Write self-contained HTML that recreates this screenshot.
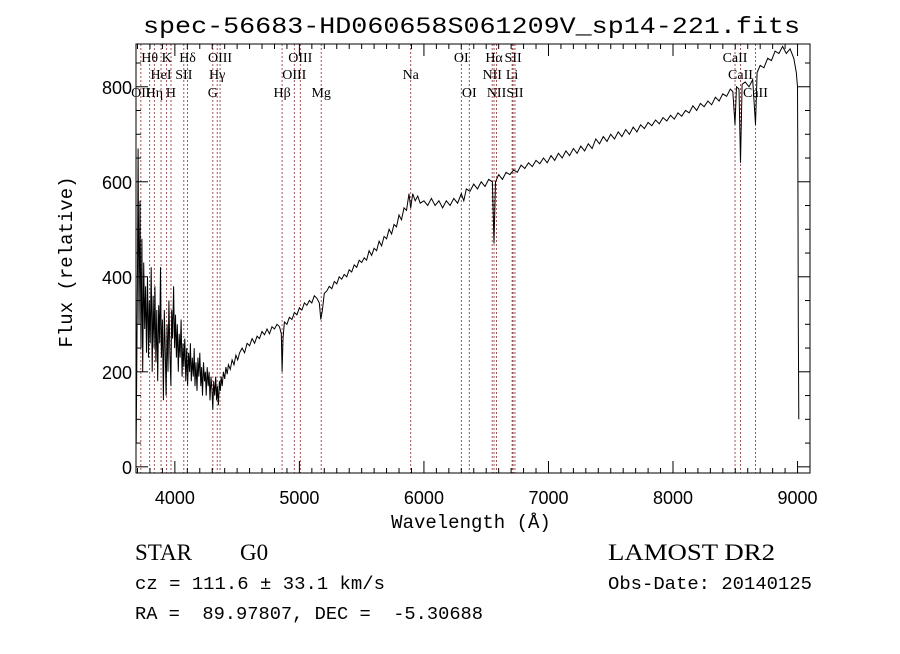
<!DOCTYPE html>
<html><head><meta charset="utf-8"><style>
body{margin:0;background:#fff;}
svg text{fill:#000;}
</style></head><body>
<svg id="chart" width="900" height="649" xmlns="http://www.w3.org/2000/svg" font-family="'Liberation Mono', monospace">
<rect width="900" height="649" fill="#fff"/>
<text x="143" y="33" font-size="23" textLength="657" lengthAdjust="spacingAndGlyphs" font-family="'Liberation Mono', monospace">spec-56683-HD060658S061209V_sp14-221.fits</text>
<g id="lines"></g>
<g id="linelabels" font-family="'Liberation Serif', serif" font-size="14"></g>
<path id="spec" fill="none" stroke="#000" stroke-width="1"/>
<g id="axes"></g>
<text x="471" y="528" font-size="19" text-anchor="middle">Wavelength (Å)</text>
<text transform="translate(72,262) rotate(-90)" font-size="19" text-anchor="middle">Flux (relative)</text>
<text x="135" y="560" font-size="23" font-family="'Liberation Serif', serif">STAR</text>
<text x="240" y="560" font-size="23" font-family="'Liberation Serif', serif">G0</text>
<text x="135" y="589" font-size="18" textLength="250" lengthAdjust="spacingAndGlyphs">cz = 111.6 ± 33.1 km/s</text>
<text x="135" y="619" font-size="18" textLength="348" lengthAdjust="spacingAndGlyphs" xml:space="preserve">RA =  89.97807, DEC =  -5.30688</text>
<text x="608" y="560" font-size="23" font-family="'Liberation Serif', serif" textLength="167" lengthAdjust="spacingAndGlyphs">LAMOST DR2</text>
<text x="608" y="589" font-size="18" textLength="204" lengthAdjust="spacingAndGlyphs">Obs-Date: 20140125</text>
</svg>
<script>
const wavelengths=[3690,3700,3705,3712,3720,3728,3735,3742,3750,3758,3765,3772,3780,3788,3795,3802,3810,3818,3825,3833,3840,3848,3855,3862,3870,3878,3885,3892,3900,3908,3915,3922,3930,3938,3945,3952,3960,3968,3975,3982,3990,3998,4005,4012,4020,4028,4035,4042,4050,4058,4065,4072,4080,4088,4095,4102,4110,4118,4125,4132,4140,4148,4155,4162,4170,4178,4185,4192,4200,4208,4215,4222,4230,4238,4245,4252,4260,4268,4275,4282,4290,4298,4305,4312,4320,4328,4335,4342,4350,4358,4365,4372,4380,4390,4400,4410,4420,4430,4445,4460,4475,4490,4505,4520,4540,4560,4580,4600,4620,4640,4660,4680,4700,4720,4740,4760,4780,4800,4820,4840,4855,4861,4868,4880,4900,4920,4940,4960,4980,5000,5020,5040,5060,5080,5100,5120,5140,5160,5172,5185,5200,5220,5240,5260,5280,5300,5320,5340,5360,5380,5400,5420,5440,5460,5480,5500,5520,5540,5560,5580,5600,5620,5640,5660,5680,5700,5720,5740,5760,5780,5800,5820,5840,5860,5880,5894,5910,5930,5950,5970,6000,6030,6060,6090,6120,6150,6180,6210,6240,6270,6300,6320,6340,6370,6400,6430,6460,6490,6520,6550,6563,6575,6600,6630,6660,6690,6720,6750,6780,6810,6840,6870,6900,6930,6960,6990,7020,7050,7080,7110,7140,7170,7200,7230,7260,7290,7320,7350,7380,7410,7440,7470,7500,7530,7560,7590,7620,7650,7680,7710,7740,7770,7800,7830,7860,7890,7920,7950,7980,8010,8040,8070,8100,8130,8160,8190,8220,8250,8280,8310,8340,8370,8400,8430,8460,8480,8498,8510,8530,8542,8555,8580,8610,8640,8662,8675,8700,8730,8760,8790,8820,8850,8880,8910,8940,8970,8990,9000,9003,9006,9010];
const fluxes=[50,420,670,300,560,250,480,200,430,290,380,240,400,230,350,260,420,200,360,250,380,220,330,180,340,260,420,230,310,140,330,260,150,300,200,350,240,170,330,270,380,250,320,230,300,200,280,230,310,190,260,210,270,180,250,170,240,200,260,180,230,190,250,170,220,160,230,190,240,170,210,150,220,180,200,150,210,170,200,140,190,160,120,180,150,190,140,170,130,180,160,190,170,200,185,210,195,215,205,225,215,235,225,240,250,240,260,255,270,260,275,270,285,278,290,280,295,290,300,295,280,200,270,305,300,315,310,325,320,335,330,345,340,350,345,360,355,345,310,330,365,370,380,375,390,385,400,395,405,400,415,410,425,420,435,430,440,435,455,445,460,455,475,465,485,480,500,490,510,505,530,520,545,540,575,545,575,560,570,555,560,550,565,550,560,545,560,550,565,555,575,560,585,580,595,585,600,590,605,600,470,600,615,605,620,615,625,620,635,628,640,632,645,638,650,640,655,645,660,650,665,655,670,660,675,665,680,670,690,680,695,685,700,690,705,695,710,700,715,705,720,712,725,718,730,722,735,728,740,732,745,738,750,745,760,750,765,758,770,762,778,770,785,780,795,790,720,800,795,640,805,810,800,815,720,830,845,840,860,855,875,870,885,870,880,860,830,800,620,300,100];
const xTickValues=[4000,5000,6000,7000,8000,9000];
const yTickValues=[0,200,400,600,800];
const lineNames=["OII","Hθ","Hη","HeI","K","H","SII","Hδ","G","Hγ","OIII","Hβ","OIII","OIII","Mg","Na","OI","OI","NII","Hα","NII","Li","SII","SII","CaII","CaII","CaII"];
const lineWaves=[3727,3798,3835,3889,3934,3969,4072,4102,4305,4340,4363,4861,4959,5007,5175,5894,6300,6364,6548,6563,6583,6708,6716,6731,8498,8542,8662];
const lineRows=[2,0,2,1,0,2,1,0,2,1,0,2,1,0,2,1,0,2,1,0,2,1,0,2,0,1,2];

const L=136,R=810,T=44,B=473;
const xMin=3688,xMax=9100,yMin=-13,yMax=890;
const X=w=>L+(w-xMin)/(xMax-xMin)*(R-L);
const Y=f=>B-(f-yMin)/(yMax-yMin)*(B-T);
const NS="http://www.w3.org/2000/svg";
function mk(tag,attrs,parent){const e=document.createElementNS(NS,tag);for(const k in attrs)e.setAttribute(k,attrs[k]);parent.appendChild(e);return e;}

let d="";
for(let i=0;i<wavelengths.length;i++){d+=(i?"L":"M")+X(wavelengths[i]).toFixed(1)+","+Y(Math.max(yMin,fluxes[i])).toFixed(1);}
document.getElementById("spec").setAttribute("d",d);

const lg=document.getElementById("lines"),ll=document.getElementById("linelabels");
const rowY=[62,79,97];
for(let i=0;i<lineWaves.length;i++){
  const x=X(lineWaves[i]);
  const ln=mk("line",{x1:x,x2:x,y1:T,y2:B,stroke:"#8b2a2a","stroke-width":"0.8","stroke-dasharray":"2,2"},lg);
  
  
  const t=mk("text",{x:x,y:rowY[lineRows[i]],"text-anchor":"middle"},ll);
  t.textContent=lineNames[i];
  
  
}

const ax=document.getElementById("axes");
mk("rect",{x:L,y:T,width:R-L,height:B-T,fill:"none",stroke:"#000","stroke-width":"1"},ax);
for(let w=3700;w<=9100;w+=100){
  const x=X(w),major=w%1000===0,len=major?12:5;
  mk("line",{x1:x,x2:x,y1:B,y2:B-len,stroke:"#000"},ax);
  mk("line",{x1:x,x2:x,y1:T,y2:T+len,stroke:"#000"},ax);
}
for(let f=0;f<=850;f+=50){
  const y=Y(f),major=f%200===0,len=major?12:5;
  mk("line",{x1:L,x2:L+len,y1:y,y2:y,stroke:"#000"},ax);
  mk("line",{x1:R,x2:R-len,y1:y,y2:y,stroke:"#000"},ax);
}
xTickValues.forEach(v=>{
  const t=mk("text",{x:X(v),y:B+31,"text-anchor":"middle","font-size":"18","font-family":"'Liberation Sans', sans-serif"},ax);
  t.textContent=v;
  
  
});
yTickValues.forEach(v=>{
  const t=mk("text",{x:L-4,y:Y(v)+7,"text-anchor":"end","font-size":"18","font-family":"'Liberation Sans', sans-serif"},ax);
  t.textContent=v;
  
  
});
</script>
</body></html>
